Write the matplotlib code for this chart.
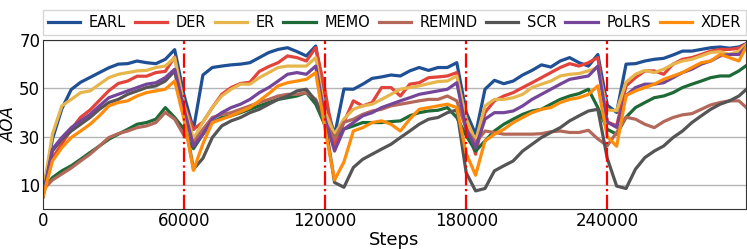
import numpy as np
import matplotlib
matplotlib.use("Agg")
import matplotlib.pyplot as plt

# values read every 4000 steps, 0 .. 300000
steps = np.arange(0, 300001, 4000)

earl = [6, 29, 41.5, 49.5, 52.5, 54.5, 56.5, 58.5, 60, 60.2, 61.3, 60.6, 60.2, 62, 66, 47,
        33, 55.5, 58.6, 59.2, 59.7, 60, 60.6, 62.7, 64.8, 66.1, 66.8, 65.2, 63.4, 67.5, 45,
        30.5, 49.7, 49.6, 51.7, 54.1, 54.7, 55.5, 55.1, 57.2, 58.6, 57.4, 58.6, 58.6, 60.6, 40,
        31, 49.6, 53.3, 51.9, 53, 55.5, 57.4, 59.7, 58.8, 61.3, 62.7, 60.6, 59.2, 64, 43,
        40, 60, 60.2, 61.3, 62, 62.4, 63.8, 65.4, 65.4, 66.1, 66.8, 67.1, 66.6, 67.1, 68.9]
der = [6, 21, 27, 33, 38, 41, 45, 49, 52, 53, 55, 55, 56.5, 57, 63, 43,
       33, 36, 42, 47.5, 50.3, 52, 52.5, 57, 59, 60.6, 63.4, 62.7, 61.3, 66.8, 49,
       26, 36, 44.8, 42.7, 44.1, 50.3, 50.3, 46.8, 51.7, 52.3, 54.4, 54.7, 55.1, 56.5, 34.5,
       22.7, 40, 44.8, 46.8, 48.2, 50.3, 52.3, 54.4, 56.5, 58.6, 60.2, 59.2, 60.6, 62.7, 36,
       34.5, 51, 54.4, 57.2, 57.2, 55.8, 60, 62, 62.7, 64, 65.4, 66.1, 66.1, 66.6, 68.9]
er = [7, 31, 42.7, 45.4, 48.2, 48.9, 51.7, 54.4, 55.8, 56.5, 57.2, 57.4, 58.6, 59.2, 62.7, 43,
      29, 36, 42, 46.8, 49.6, 51.7, 51.7, 54.4, 56.5, 58.6, 59.2, 59.2, 59.2, 62.7, 40,
      31, 37.3, 41.3, 42.7, 43.4, 45.4, 47.5, 49.6, 50.3, 51, 51.9, 52.8, 53, 55.1, 37.3,
      28.2, 42.7, 45.4, 45.4, 46.1, 47.5, 50.3, 51.7, 53, 55.1, 55.8, 56.1, 57.2, 58.6, 41,
      40.7, 52.5, 55.8, 57.4, 56.5, 57.9, 60, 61.3, 62, 63.4, 64.8, 65.2, 64, 65.4, 68.9]
memo = [8, 13, 15.8, 17.9, 20.6, 23.4, 26.1, 28.9, 31, 33, 35.1, 35.8, 37.2, 42, 37.9, 33,
        25, 31, 35.8, 37.9, 38.6, 39.9, 41.3, 42.7, 44.1, 45.4, 46.1, 46.8, 48.2, 43.4, 34.5,
        29.7, 33.1, 34.4, 35.8, 35.8, 35.8, 36.2, 36.5, 38.6, 39.9, 40.6, 40.9, 42, 37.9, 30.4,
        24, 28.2, 32.3, 35.1, 37.2, 39.2, 40.6, 41.3, 43.4, 45.4, 46.8, 47.8, 49.6, 42, 33,
        31, 38, 42, 44.1, 46.1, 46.8, 48.2, 50.3, 51.7, 53, 54.4, 55.1, 55.1, 57.2, 60]
remind = [8, 12, 14.5, 17, 19.9, 22.7, 26.1, 29.6, 31.2, 32.3, 33.7, 34.4, 35.8, 40, 37.2, 30.4,
          27.5, 33, 37.9, 39.2, 39.9, 41.3, 42.7, 44.1, 45.4, 46.8, 47.5, 47.5, 48.2, 45.4, 35.9,
          29, 35.9, 37.2, 39.2, 40.6, 41.3, 42.7, 43.4, 44.1, 44.8, 45.4, 45.4, 46.8, 44.8, 33,
          27.5, 32.3, 31.7, 31, 31, 31, 31, 31.2, 32, 32.3, 31.7, 31.7, 32.6, 29, 26.2,
          31.7, 38, 37.2, 35.1, 33.7, 36.2, 37.9, 39, 39.5, 41.3, 43.1, 44.1, 44.8, 44.8, 41.3]
scr = [6, 24, 28.9, 32.3, 35.1, 37.9, 41.3, 44.1, 45.4, 47.5, 48.9, 50.3, 51, 53, 57.2, 38,
       16.5, 21, 29.6, 34.4, 36.5, 37.9, 39.9, 41.3, 43.4, 45.4, 46.8, 48.9, 49.6, 44.8, 35.9,
       11, 9, 17.2, 20.6, 22.7, 24.8, 26.8, 29.6, 32.3, 35.1, 37.2, 37.9, 39.9, 41, 15,
       7.5, 8.5, 15.8, 17.9, 19.9, 24, 26.8, 29.6, 31.7, 33.7, 36.5, 38.6, 40.6, 41.3, 21,
       9.5, 8.5, 16.5, 21.3, 24, 26.1, 29.6, 32.3, 35.8, 38.6, 41.3, 43.4, 44.8, 46.8, 50.3]
polrs = [5, 24.8, 29.6, 33.7, 36.5, 39.2, 42.7, 46.1, 47.5, 48.9, 50.3, 51.7, 52.3, 54.4, 57.9, 41.4,
         26, 31, 37.2, 39.9, 42, 43.4, 45.4, 48.2, 50.3, 53, 55.8, 56.5, 55.8, 59.2, 37.3,
         24, 33.1, 35.8, 38.6, 39.9, 42, 43.4, 44.8, 46.1, 47.5, 48.2, 48.9, 49.6, 52.3, 33,
         25.4, 37.2, 39.9, 39.9, 40.6, 42.7, 45.4, 47.5, 49.6, 51.7, 53.7, 54.4, 55.1, 59.2, 36,
         33.8, 47, 50.3, 51.7, 51.7, 52.3, 54.4, 56.5, 57.9, 60, 61.3, 63.4, 64, 64, 68.2]
xder = [5, 19.9, 25.4, 29.6, 32.3, 35.1, 38.6, 42.7, 44.1, 44.8, 46.8, 48.2, 48.9, 49.6, 53, 37,
        16, 27, 35.8, 37.2, 38.6, 40.3, 42, 44.8, 47.8, 51, 52.3, 53, 53.7, 56.5, 33,
        12, 19.5, 32.3, 33.7, 35.8, 36.5, 35.1, 32.3, 37.2, 41.3, 42, 42.7, 43.4, 42, 23,
        14, 28.2, 31, 33, 35.8, 37.9, 39.9, 41.3, 42, 44.1, 45.4, 46.1, 47.5, 51, 30,
        26, 47, 48.9, 50.3, 51.7, 53.7, 55.1, 56.5, 58.6, 60.6, 61.3, 64, 62.7, 61.3, 68.9]

names = ['EARL', 'DER', 'ER', 'MEMO', 'REMIND', 'SCR', 'PoLRS', 'XDER']
series = [earl, der, er, memo, remind, scr, polrs, xder]
colors = ['#1f4f94', '#e2433a', '#e6b64c', '#1d6a36', '#b4685a', '#555555', '#75459a', '#ff8c0a']
task_bounds = [60000, 120000, 180000, 240000]

fig = plt.figure(figsize=(7.47, 2.49), dpi=100)
ax = fig.add_axes([0.0576, 0.1606, 0.941, 0.6788])

for name, ys, c in zip(names, series, colors):
    ax.plot(steps, ys, color=c, lw=2.3, label=name)

for b in task_bounds:
    ax.axvline(b, color='red', ls='-.', lw=1.6)

ax.set_xlim(0, 299000)
ax.set_ylim(0, 70)
ax.set_yticks([10, 30, 50, 70])
ax.set_xticks([0, 60000, 120000, 180000, 240000])
ax.yaxis.grid(True, color='#b5b5b5', lw=1)
ax.set_axisbelow(True)
ax.tick_params(length=0, labelsize=12, pad=2)
for s in ax.spines.values():
    s.set_color('#333333')
ax.set_xlabel('Steps', fontsize=13, labelpad=1)
ax.set_ylabel('AOA', fontsize=12, fontstyle='italic', labelpad=1)

ax.legend(loc='lower left', bbox_to_anchor=(0, 1.03, 1, 0.2), mode='expand', ncol=8,
          fontsize=10.5, handlelength=2.2, handletextpad=0.6, columnspacing=0.6,
          borderaxespad=0, frameon=True, fancybox=False, edgecolor='#cccccc',
          borderpad=0.35)

fig.savefig('out.png', dpi=100)
